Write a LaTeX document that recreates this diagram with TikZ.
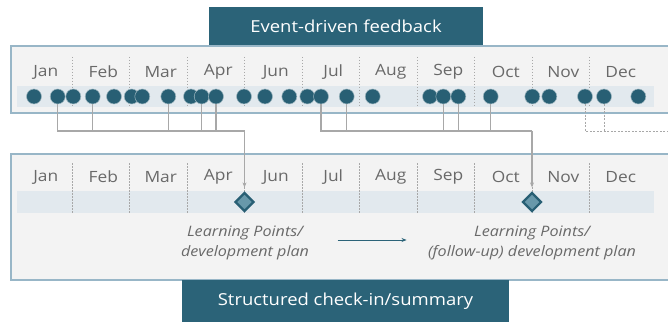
\documentclass[tikz,border=0pt]{standalone}
\usepackage{fontspec}
\setmainfont{Open Sans}[FakeStretch=1.12]
\usetikzlibrary{
  arrows.meta, % for the small arrow tips
  positioning, % for relative placement
  shapes.geometric, % for the check-in diamonds
}
\definecolor{hdteal}{RGB}{43,99,120}
\definecolor{dotteal}{RGB}{40,95,116}
\definecolor{diafill}{RGB}{104,152,170}
\definecolor{framebl}{RGB}{152,182,199}
\definecolor{paper}{RGB}{243,243,243}
\definecolor{bandbl}{RGB}{226,233,238}
\definecolor{labgray}{RGB}{105,105,105}
\definecolor{linkgray}{RGB}{168,168,168}
\tikzset{
  frame/.style={ % style for the two timeline panels
    draw=framebl,fill=paper, % light panel with a blue-grey edge
    line width=1.3pt,
  },
  band/.style={fill=bandbl}, % the strip that carries the events
  sep/.style={ % dotted month separators
    draw=linkgray,line width=0.6pt,
    dash pattern=on 1.5pt off 1.5pt,
  },
  month/.style={ % month labels
    text=labgray,font=\fontsize{15.5}{17}\selectfont,
  },
  event/.style={ % one feedback event
    circle,fill=dotteal,draw=white!55!dotteal,line width=0.5pt,
    minimum size=15pt,inner sep=0pt,
  },
  checkin/.style={ % structured check-in marker
    diamond,aspect=1,fill=diafill,draw=dotteal,line width=2.2pt,
    minimum size=19pt,inner sep=0pt,
  },
  link/.style={ % events gathered into a check-in
    draw=linkgray,line width=1.4pt,
  },
  later/.style={ % events carried to the next period
    draw=linkgray,line width=0.8pt,dash pattern=on 2pt off 1.5pt,
  },
  header/.style={ % panel titles
    fill=hdteal,text=white,inner sep=0pt,
    font=\fontsize{16.5}{19}\selectfont,
  },
  note/.style={ % outcome texts
    text=labgray,align=center,
    font=\itshape\fontsize{14.4}{19.5}\selectfont,
  },
  flow/.style={ % from one plan to the next
    draw=hdteal,line width=1pt,-{Stealth[length=5pt,width=4pt]},
  },
}
\begin{document}
\begin{tikzpicture}[x=1pt,y=-1pt]
\useasboundingbox (0,0) rectangle (668,323);

% panels
\draw[frame] (11,46) rectangle (680,113);
\draw[frame] (11,154) rectangle (680,280);
\fill[band] (17,86) rectangle (654,107);
\fill[band] (17,191) rectangle (654,213);

% months and separators
\foreach \m [count=\i from 0] in {Jan,Feb,Mar,Apr,Jun,Jul,Aug,Sep,Oct,Nov,Dec} {
  \node[month] (tm\i) at (45.75+57.5*\i,72) {\m};
  \node[month] (bm\i) at (45.75+57.5*\i,177) {\m};
}
\foreach \i in {0,...,9} {
  \draw[sep] (72+57.5*\i,57) -- (72+57.5*\i,107);
  \draw[sep] (72+57.5*\i,163) -- (72+57.5*\i,213);
}

% feedback events
\foreach \x [count=\i] in {34,57.7,73.3,92.7,114,131.7,142.3,168.3,191,201.7,216,
    244,265,289.3,307.3,321,346.7,372.7,430,443.3,458.3,490.7,532.3,549.3,585,604,638.3}
  \node[event] (e\i) at (\x,96.5) {};

% check-ins
\node[checkin] (cp1) at (244.5,202) {};
\node[checkin] (cp2) at (532,202) {};
\coordinate (hub1) at (244.5,131);
\coordinate (hub2) at (532,131);
\coordinate (hub3) at (672,131);

\foreach \e in {e2,e4,e8,e10,e11}
  \draw[link] (\e.south) |- (hub1);
\foreach \e in {e16,e17,e20,e21,e22}
  \draw[link] (\e.south) |- (hub2);
\draw[link,-{Stealth[length=5pt,width=4pt]},shorten >=4pt] (hub1) -- (cp1.north);
\draw[link,-{Stealth[length=5pt,width=4pt]},shorten >=4pt] (hub2) -- (cp2.north);
\draw[later] (e25.south) |- (hub3);
\draw[later] (e26.south) -- (e26.south |- hub3);

% outcomes
\node[note] (lp1) at (245,243) {Learning Points/\\development plan};
\node[note] (lp2) at (532,243) {Learning Points/\\(follow-up) development plan};
\draw[flow] ([xshift=25pt,yshift=3pt]lp1.east) -- ([xshift=-18pt,yshift=3pt]lp2.west);

% titles
\node[header,minimum width=274pt,minimum height=38pt] (fbhead) at (346,26) {Event-driven feedback};
\node[header,minimum width=327pt,minimum height=42pt] (cihead) at (345.5,301) {Structured check-in/summary};
\end{tikzpicture}
\end{document}
